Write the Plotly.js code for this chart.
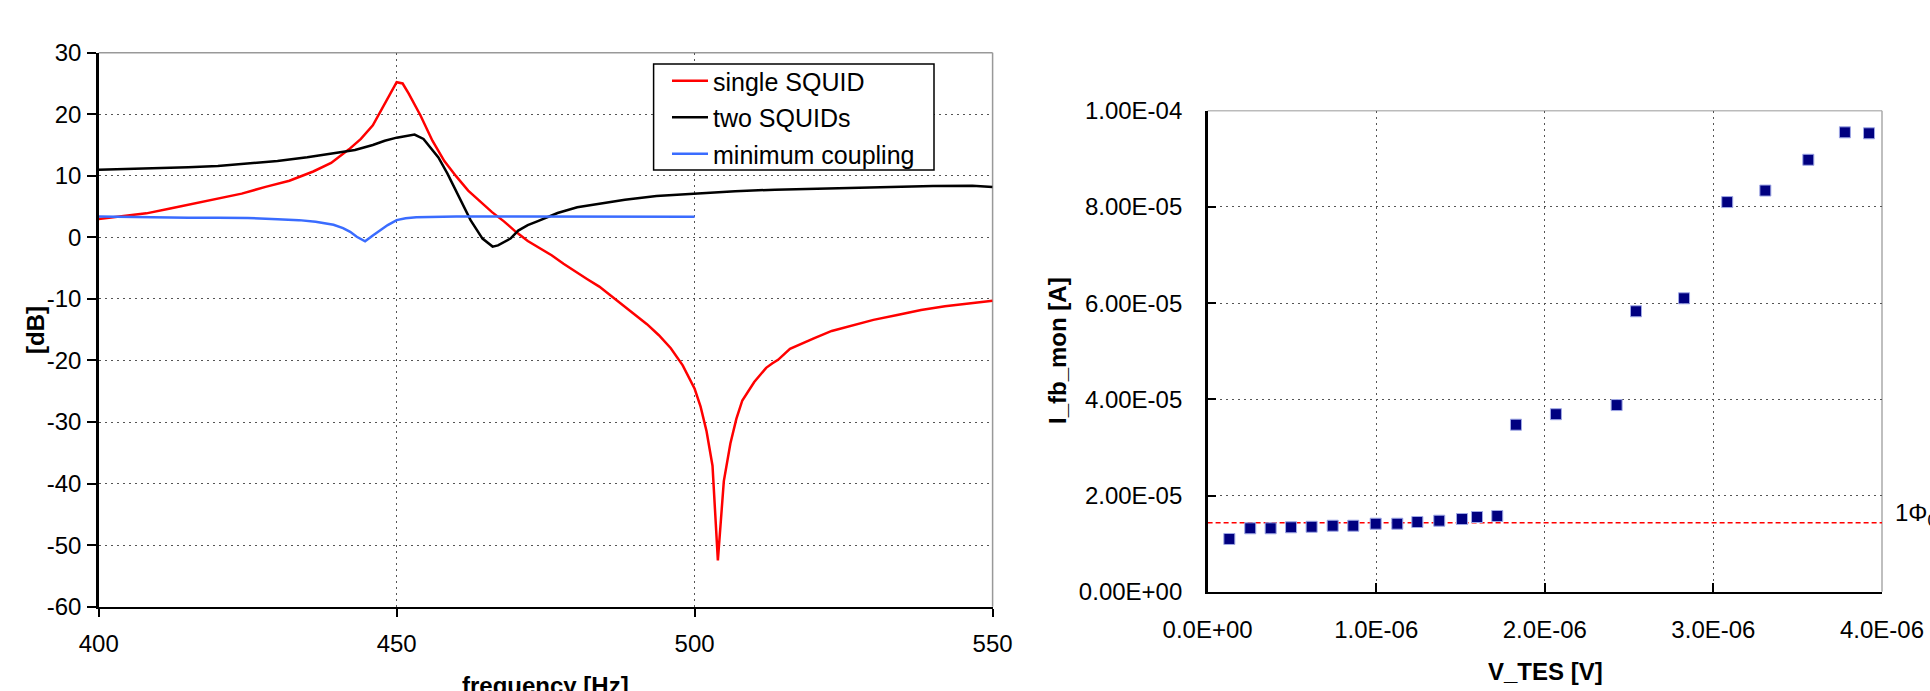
<!DOCTYPE html>
<html><head><meta charset="utf-8">
<script src="https://cdn.plot.ly/plotly-3.0.1.min.js"></script>
<style>html,body{margin:0;padding:0;background:#fff;overflow:hidden}#chart{width:1930px;height:691px}</style>
</head><body><div id="chart"></div>
<script>
// ---- Left chart: transfer function [dB] vs frequency [Hz]
const singleF  = [400,404,408,412,416,420,424,428,432,436,439,442,444,446,448,449.5,450,451,452,454,456,458,460,462,464,466,468,470,472,474,476,478,480,482,484,486,488,490,492,494,496,498,500,501,502,503,503.9,504.9,506,507,508,510,512,513,514,516,518,520,523,526,530,534,538,542,546,550];
const singleDB = [3.0,3.4,3.9,4.7,5.5,6.2,7.1,8.2,9.2,10.7,12.1,14.3,16.0,18.2,21.6,24.3,25.2,25.0,23.4,19.8,15.7,12.4,9.9,7.6,5.8,4.1,2.6,0.9,-0.6,-1.8,-2.9,-4.3,-5.6,-6.8,-8.0,-9.5,-11.1,-12.5,-14.1,-15.9,-18.0,-20.8,-24.6,-27.5,-31.5,-37.1,-52.5,-39.6,-33.5,-29.5,-26.5,-23.5,-21.2,-20.5,-19.9,-18.1,-17.2,-16.4,-15.2,-14.4,-13.4,-12.6,-11.8,-11.2,-10.7,-10.3];

const twoF  = [400,405,410,415,420,425,430,435,440,443,446,448,450,452,453,454.5,456,457,458.5,460.5,462.4,464.4,466.1,467,467.7,469.1,470.4,472,473.7,477,480.3,484.3,488.3,493.6,500.2,506.8,513.5,520,527,533,540,546.6,550];
const twoDB = [11.0,11.1,11.3,11.4,11.6,12.0,12.4,13.0,13.7,14.2,15.0,15.7,16.2,16.6,16.7,16.0,14.2,13.0,10.4,6.6,2.8,-0.2,-1.5,-1.3,-0.9,-0.2,1.1,2.0,2.65,3.96,4.9,5.5,6.1,6.7,7.1,7.5,7.75,7.9,8.1,8.3,8.35,8.4,8.2];

const minF  = [400,405,410,415,420,425,430,433.6,436.4,439.4,441,442.2,443.3,444.7,446,447.2,448.5,450,451.5,453.3,456,460,470,480,490,500];
const minDB = [3.4,3.3,3.25,3.2,3.2,3.15,2.95,2.8,2.55,2.05,1.5,0.9,0.1,-0.65,0.3,1.1,2.0,2.8,3.1,3.25,3.35,3.4,3.4,3.4,3.35,3.35];

const seriesNames = ['single SQUID','two SQUIDs','minimum coupling'];
const leftXTicks = [400,450,500,550];
const leftYTicks = [-60,-50,-40,-30,-20,-10,0,10,20,30];
const leftYLabels = ['-60','-50','-40','-30','-20','-10','0','10','20','30'];

// ---- Right chart: I_fb_mon [A] vs V_TES [V]
const vTes = [0.129e-6,0.253e-6,0.374e-6,0.495e-6,0.617e-6,0.742e-6,0.864e-6,0.997e-6,1.125e-6,1.244e-6,1.374e-6,1.509e-6,1.598e-6,1.718e-6,1.829e-6,2.066e-6,2.426e-6,2.541e-6,2.826e-6,3.082e-6,3.308e-6,3.563e-6,3.780e-6,3.923e-6];
const iFb  = [1.096e-5,1.318e-5,1.318e-5,1.339e-5,1.350e-5,1.372e-5,1.372e-5,1.414e-5,1.414e-5,1.449e-5,1.476e-5,1.511e-5,1.553e-5,1.574e-5,3.472e-5,3.690e-5,3.880e-5,5.830e-5,6.100e-5,8.100e-5,8.340e-5,8.980e-5,9.550e-5,9.530e-5];
const phiX = [0, 4e-6];
const phiY = [1.435e-5, 1.435e-5];
const rightXTicks = [0,1e-6,2e-6,3e-6,4e-6];
const rightXLabels = ['0.0E+00','1.0E-06','2.0E-06','3.0E-06','4.0E-06'];
const rightYTicks = [0,2e-5,4e-5,6e-5,8e-5,1e-4];
const rightYLabels = ['0.00E+00','2.00E-05','4.00E-05','6.00E-05','8.00E-05','1.00E-04'];

const W = 1930, H = 691;
const px = v => v / W, py = v => 1 - v / H;
const FONT = 'Liberation Sans, Arial, sans-serif';

const traces = [
  {x: singleF, y: singleDB, name: seriesNames[0], type: 'scatter', mode: 'lines', line: {color: '#ff0000', width: 2.5}, xaxis: 'x', yaxis: 'y', legendgroup: 'a'},
  {x: twoF, y: twoDB, name: seriesNames[1], type: 'scatter', mode: 'lines', line: {color: '#000000', width: 2.5}, xaxis: 'x', yaxis: 'y', legendgroup: 'b'},
  {x: minF, y: minDB, name: seriesNames[2], type: 'scatter', mode: 'lines', line: {color: '#3a6cff', width: 2.5}, xaxis: 'x', yaxis: 'y', legendgroup: 'c'},
  {x: phiX, y: phiY, type: 'scatter', mode: 'lines', line: {color: '#ff0000', width: 1.5, dash: '5px,3px'}, xaxis: 'x2', yaxis: 'y2', showlegend: false},
  {x: vTes, y: iFb, type: 'scatter', mode: 'markers', marker: {symbol: 'square', size: 11, color: '#000080', line: {color: '#9fa8e6', width: 1}}, xaxis: 'x2', yaxis: 'y2', showlegend: false}
];

const gridStyle = {showgrid: true, gridcolor: '#555', gridwidth: 1, griddash: '2px,4px', zeroline: false,
  showline: true, linecolor: '#000', linewidth: 2.5, tickcolor: '#000', tickwidth: 2,
  tickfont: {family: FONT, size: 24, color: '#000'}, tickmode: 'array', fixedrange: true};

const layout = {
  width: W, height: H, autosize: false,
  margin: {l: 0, r: 0, t: 0, b: 0, pad: 0},
  paper_bgcolor: '#fff', plot_bgcolor: '#fff',
  font: {family: FONT, size: 24, color: '#000'},
  xaxis: Object.assign({}, gridStyle, {domain: [px(98.7), px(992.6)], range: [400, 550], tickvals: leftXTicks, ticks: 'outside', ticklen: 8, ticklabelstandoff: 6, anchor: 'y'}),
  yaxis: Object.assign({}, gridStyle, {domain: [py(606.7), py(52.7)], range: [-60, 30], tickvals: leftYTicks, ticktext: leftYLabels, ticks: 'outside', ticklen: 9, ticklabelstandoff: 1, anchor: 'x'}),
  xaxis2: Object.assign({}, gridStyle, {domain: [px(1207.6), px(1882)], range: [0, 4e-6], tickvals: rightXTicks, ticktext: rightXLabels, ticks: 'inside', ticklen: 9, ticklabelstandoff: 15, anchor: 'y2'}),
  yaxis2: Object.assign({}, gridStyle, {domain: [py(591.7), py(110.7)], range: [0, 1e-4], tickvals: rightYTicks, ticktext: rightYLabels, ticks: 'inside', ticklen: 8, ticklabelstandoff: 18, anchor: 'x2'}),
  showlegend: true,
  legend: {x: px(667), y: py(58), xanchor: 'left', yanchor: 'top', bgcolor: 'rgba(0,0,0,0)', borderwidth: 0,
    font: {family: FONT, size: 25, color: '#000'}, tracegroupgap: 1, itemwidth: 36},
  shapes: [
    {type: 'line', xref: 'x domain', yref: 'y domain', x0: 0, x1: 1, y0: 1, y1: 1, line: {color: '#999', width: 1.5}, layer: 'below'},
    {type: 'line', xref: 'x domain', yref: 'y domain', x0: 1, x1: 1, y0: 0, y1: 1, line: {color: '#999', width: 1.5}, layer: 'below'},
    {type: 'line', xref: 'x2 domain', yref: 'y2 domain', x0: 0, x1: 1, y0: 1, y1: 1, line: {color: '#bbb', width: 1.5}, layer: 'below'},
    {type: 'line', xref: 'x2 domain', yref: 'y2 domain', x0: 1, x1: 1, y0: 0, y1: 1, line: {color: '#aaa', width: 1.5}, layer: 'below'},
    // legend frame
    {type: 'rect', xref: 'paper', yref: 'paper', x0: px(653.6), x1: px(934), y0: py(170), y1: py(64), line: {color: '#000', width: 1.5}, fillcolor: '#fff', layer: 'above'}
  ],
  annotations: [
    {text: '<b>[dB]</b>', xref: 'paper', yref: 'paper', x: px(35), y: py(330), textangle: -90, showarrow: false, xanchor: 'center', yanchor: 'middle', font: {family: FONT, size: 24}},
    {text: '<b>frequency [Hz]</b>', xref: 'paper', yref: 'paper', x: px(545.6), y: py(670), showarrow: false, xanchor: 'center', yanchor: 'top', font: {family: FONT, size: 24}},
    {text: '<b>I_fb_mon [A]</b>', xref: 'paper', yref: 'paper', x: px(1057), y: py(351), textangle: -90, showarrow: false, xanchor: 'center', yanchor: 'middle', font: {family: FONT, size: 24}},
    {text: '<b>V_TES [V]</b>', xref: 'paper', yref: 'paper', x: px(1545), y: py(671), showarrow: false, xanchor: 'center', yanchor: 'middle', font: {family: FONT, size: 24}},
    {text: '1Φ<sub>0</sub>', xref: 'paper', yref: 'paper', x: px(1893), y: py(514), showarrow: false, xanchor: 'left', yanchor: 'middle', font: {family: FONT, size: 24}}
  ]
};

Plotly.newPlot('chart', traces, layout, {staticPlot: true, displayModeBar: false});
</script></body></html>
